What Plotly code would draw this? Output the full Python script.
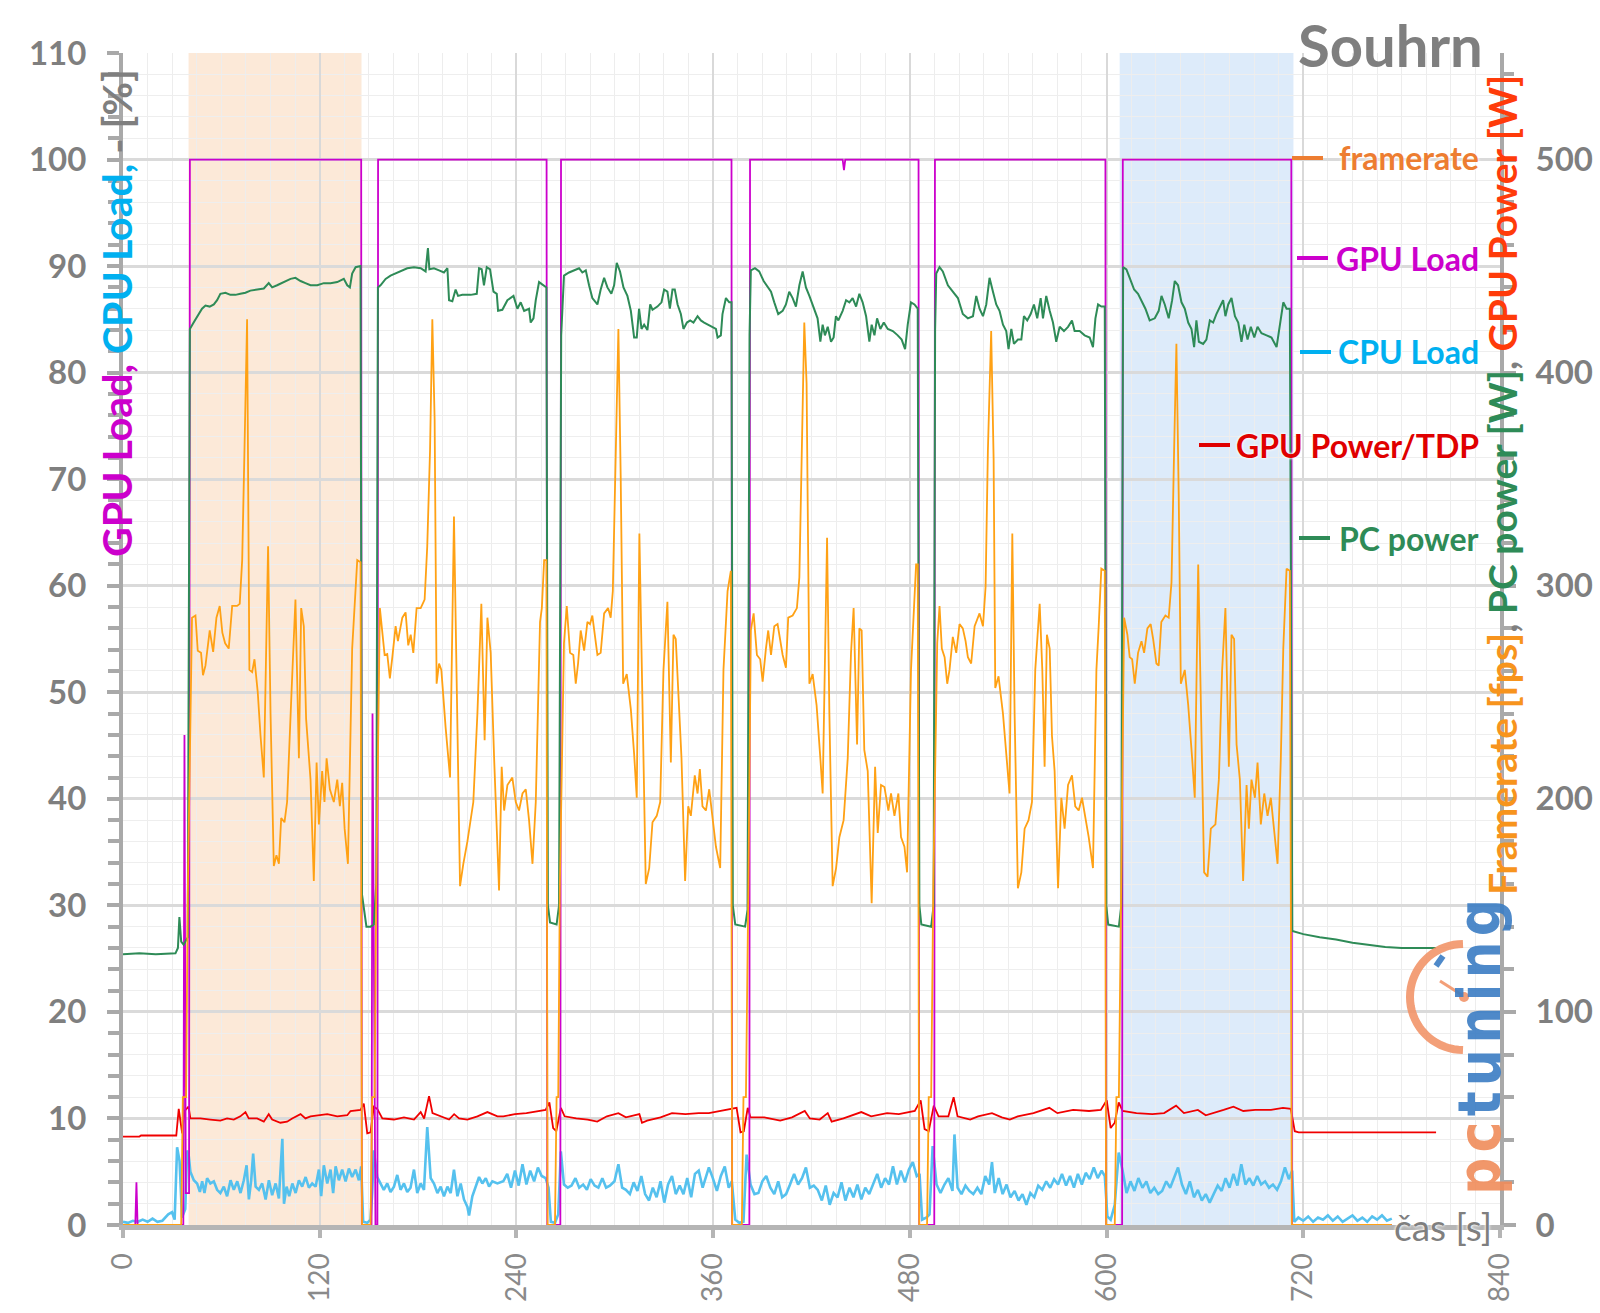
import math
import plotly.graph_objects as go

# ---------------------------------------------------------------- data
time_ticks = [0, 120, 240, 360, 480, 600, 720, 840]
left_ticks = [0, 10, 20, 30, 40, 50, 60, 70, 80, 90, 100, 110]
right_ticks = [0, 100, 200, 300, 400, 500]

# highlighted benchmark passes (start s, end s, colour)
highlight_periods = [(40.0, 145.5, "#FCE9D8"), (608.0, 714.0, "#DDEBFA")]

# GPU Load [%]  (time s, value)
gpu_load = [(0, 0), (7.5, 0), (8.2, 4), (8.9, 0), (36.8, 0), (37.5, 46), (38.3, 3), (40.3, 3), (40.8, 100),
            (145.3, 100), (145.7, 0), (151.6, 0), (152.2, 48), (153.0, 23), (154.0, 0), (155.2, 0), (155.6, 100),
            (258.4, 100), (258.8, 0), (266.8, 0), (267.2, 100), (371.2, 100), (371.6, 0), (382.1, 0), (382.5, 100),
            (439.0, 100), (439.8, 99), (440.6, 100), (485.3, 100), (485.7, 0), (494.9, 0), (495.3, 100),
            (599.3, 100), (599.7, 0), (609.5, 0), (609.9, 100), (712.7, 100), (713.1, 0), (774, 0)]

# Framerate [fps]
framerate_idle = [(0, 0), (35.5, 0), (36.5, 60), (38.5, 60), (39.5, 155)]
framerate_run1 = [(42.1, 285), (44.2, 286), (45.6, 269.5), (47.6, 268.5), (48.8, 258), (50.3, 262.5), (52.9, 279),
                  (55.0, 269), (57.0, 285), (59.0, 290.5), (60.6, 278), (62.3, 273), (64.5, 270.5), (66.6, 290.5),
                  (69.6, 290.5), (71.2, 291.5), (72.7, 312), (74.1, 363.5), (75.7, 425), (77.1, 260.5),
                  (78.8, 259.5), (80.2, 265.5), (82.2, 250), (83.9, 229.5), (85.9, 210), (88.5, 318.5), (90.0, 240),
                  (92.0, 168.5), (93.6, 173.5), (95.1, 169.5), (96.5, 191), (98.5, 189), (100.1, 198.5),
                  (102.8, 250), (105.2, 293.5), (107.3, 219), (108.7, 289.5), (110.3, 281), (111.7, 237.5),
                  (114.4, 209), (116.4, 161.5), (118.1, 217), (119.5, 188), (121.5, 213), (122.9, 198.5),
                  (124.2, 219), (126.2, 204.5), (128.6, 198.5), (130.7, 209), (132.3, 196.5), (133.7, 207.5),
                  (135.2, 186), (137.2, 169.5), (139.8, 270.5), (142.9, 312), (144.9, 311),
                  (145.8, 0), (151.0, 0), (152.0, 60), (153.5, 60), (154.5, 160)]
framerate_run2 = [(156.7, 289.5), (158.2, 277), (159.6, 267.5), (161.2, 268), (162.8, 256.5), (164.3, 266.5),
                  (166.3, 281), (167.7, 274), (170.4, 285), (172.4, 287.5), (174.0, 272), (175.5, 277),
                  (177.1, 268.5), (179.1, 289.5), (181.6, 289.5), (184.0, 293.5), (185.6, 318.5), (187.3, 363.5),
                  (188.7, 425), (190.1, 378), (191.3, 254), (192.8, 263.5), (194.2, 260.5), (196.8, 233.5),
                  (199.5, 210), (201.9, 332.5), (204.0, 240), (205.6, 159), (207.6, 169.5), (210.1, 180),
                  (213.7, 198.5), (216.2, 240), (218.6, 291.5), (220.6, 227.5), (222.3, 285), (224.3, 268.5),
                  (226.4, 219), (229.4, 157), (231.0, 215), (232.5, 194.5), (234.5, 206.5), (237.5, 210),
                  (239.6, 198.5), (241.6, 194.5), (243.7, 202.5), (245.7, 204.5), (247.7, 190), (249.8, 169.5),
                  (251.8, 198.5), (254.4, 283), (255.5, 289.5), (256.9, 312), (258.3, 312),
                  (259.0, 0), (263.5, 0), (264.5, 60), (265.5, 60), (266.5, 160)]
framerate_run3 = [(269.0, 273), (270.7, 290.5), (272.7, 268.5), (274.7, 267.5), (276.2, 254), (277.6, 263.5),
                  (279.2, 279), (281.3, 269.5), (283.3, 283), (284.9, 282), (286.3, 286), (287.8, 277),
                  (289.4, 267.5), (291.4, 268.5), (293.5, 287), (295.9, 289.5), (297.5, 285), (298.8, 297.5),
                  (300.6, 363.5), (302.2, 420.5), (303.6, 351.5), (305.1, 254), (307.3, 258.5), (309.8, 242),
                  (311.8, 221), (313.4, 200.5), (315.0, 324.5), (316.9, 240), (318.9, 160), (321.0, 167.5),
                  (323.0, 189), (325.6, 192), (327.7, 198.5), (329.7, 260.5), (332.1, 292.5), (334.2, 217),
                  (335.8, 277), (337.2, 275), (339.3, 237.5), (340.7, 219), (342.9, 161.5), (344.8, 196.5),
                  (346.4, 192), (348.8, 211), (350.5, 202.5), (351.9, 214), (353.5, 196.5), (355.6, 194.5),
                  (357.6, 204.5), (359.6, 192), (361.7, 177.5), (364.3, 167.5), (366.3, 260.5), (368.8, 297.5),
                  (370.8, 307),
                  (371.6, 0), (377.5, 0), (378.5, 60), (380.0, 60), (381.5, 160)]
framerate_run4 = [(383.0, 279), (384.7, 287), (386.7, 267.5), (388.7, 265.5), (390.2, 255), (392.2, 270.5),
                  (393.6, 279), (395.3, 267.5), (397.3, 281), (399.3, 282), (400.9, 275), (402.4, 267.5),
                  (404.4, 261.5), (405.8, 285), (408.5, 286), (411.1, 289.5), (412.6, 304), (414.0, 363.5),
                  (415.6, 423.5), (417.0, 395), (418.7, 254), (420.7, 258.5), (423.1, 244), (425.4, 219),
                  (426.8, 202.5), (429.5, 322.5), (430.9, 240), (432.9, 159), (435.0, 167.5), (437.0, 182),
                  (439.6, 190), (442.1, 219), (444.1, 268.5), (445.7, 289.5), (447.8, 225.5), (449.2, 280),
                  (450.6, 279), (452.2, 223), (454.3, 213), (456.7, 151), (458.8, 215), (460.4, 184),
                  (462.4, 206.5), (464.5, 205.5), (466.9, 194.5), (468.5, 202.5), (470.6, 192), (473.0, 202.5),
                  (474.6, 182), (476.7, 177.5), (478.3, 165.5), (480.7, 260.5), (482.4, 287), (483.8, 310),
                  (484.8, 310),
                  (485.7, 0), (490.5, 0), (491.5, 60), (493.0, 60), (494.3, 160)]
framerate_run5 = [(496.7, 273), (498.1, 290.5), (499.5, 270.5), (501.2, 266.5), (502.8, 254), (504.2, 260.5),
                  (506.2, 276), (508.3, 268.5), (510.3, 282), (512.3, 280), (514.0, 274), (515.4, 266.5),
                  (517.4, 263.5), (519.5, 281), (522.5, 287), (524.6, 281), (526.2, 299.5), (527.6, 363.5),
                  (529.6, 419.5), (531.1, 359.5), (532.1, 252), (534.1, 257.5), (536.8, 240), (538.8, 219),
                  (540.8, 202.5), (542.5, 324.5), (543.9, 240), (545.9, 158), (548.0, 165.5), (550.0, 186),
                  (552.4, 190), (554.5, 198.5), (556.5, 260.5), (559.2, 291.5), (560.8, 260.5), (562.2, 215),
                  (563.6, 277), (565.3, 270.5), (566.7, 229.5), (568.3, 213), (570.4, 158), (572.4, 200.5),
                  (574.4, 186), (576.5, 206.5), (578.9, 211), (580.9, 196.5), (583.0, 194.5), (585.0, 200.5),
                  (587.0, 192), (589.1, 182), (591.7, 167.5), (593.8, 260.5), (595.2, 281), (596.8, 308),
                  (598.9, 307),
                  (599.7, 0), (605.0, 0), (606.0, 60), (607.5, 60), (608.8, 160)]
framerate_run6 = [(610.7, 285), (612.7, 277), (614.1, 266.5), (615.6, 265.5), (617.2, 254), (619.2, 268.5),
                  (621.3, 274), (622.9, 268.5), (624.9, 280), (626.9, 282), (628.4, 275), (630.4, 263.5),
                  (631.8, 262.5), (633.4, 283), (635.9, 286), (637.9, 285), (639.6, 301.5), (641.2, 363.5),
                  (642.6, 413.5), (644.0, 343), (645.3, 254), (647.7, 260.5), (649.8, 244), (652.2, 219),
                  (653.8, 200.5), (655.9, 310), (657.5, 240), (659.5, 165.5), (661.6, 163.5), (663.6, 186),
                  (666.4, 188), (668.5, 209), (670.5, 260.5), (672.5, 289.5), (674.6, 215), (676.2, 277),
                  (677.8, 275), (679.3, 225.5), (681.3, 209), (683.3, 161.5), (685.4, 206.5), (686.8, 186),
                  (688.4, 209), (690.5, 200.5), (692.1, 217), (694.1, 188), (696.2, 202.5), (698.2, 192),
                  (700.2, 200.5), (702.3, 186), (704.3, 169.5), (706.3, 219), (707.8, 270.5), (709.8, 308),
                  (711.8, 307),
                  (713.0, 0), (774.0, 0)]

# PC power [W]
pc_power_idle = [(0, 127), (10, 127.5), (20, 127), (32, 127.5), (33.5, 130), (34.4, 144.5), (35.5, 133),
                 (37.0, 131.5), (39.5, 135)]
pc_power_run1 = [(40.8, 420.5), (43.1, 423.5), (46.2, 427.5), (48.2, 430), (50.3, 431.5), (52.9, 431),
                 (55.4, 432), (57.4, 434), (59.4, 437), (62.5, 437.5), (65.5, 436.5), (68.6, 436.5), (71.6, 437),
                 (74.7, 437.5), (77.7, 438.5), (81.8, 439), (85.9, 439.5), (88.9, 442), (91.0, 440), (94.0, 441),
                 (98.1, 442.5), (102.2, 444), (105.2, 444.5), (108.3, 443), (111.3, 442), (114.4, 441),
                 (118.5, 441), (122.5, 442), (126.6, 442), (130.7, 442.5), (134.7, 444), (136.8, 441),
                 (138.4, 440), (139.8, 446.5), (141.9, 449.5), (144.9, 450),
                 (145.8, 155), (147.0, 147.5), (148.5, 140), (151.0, 140), (153.0, 141), (154.5, 160)]
pc_power_run2 = [(155.5, 440), (157.1, 441), (160.2, 444), (163.2, 445.5), (166.3, 446.5), (169.4, 447.5),
                 (173.4, 449), (177.5, 449.5), (181.6, 449), (184.6, 447.5), (186.0, 458.5), (186.9, 448.5),
                 (189.7, 449), (192.8, 448), (195.8, 447), (197.9, 449), (198.9, 434), (200.9, 433.5),
                 (202.9, 439), (204.4, 436), (207.0, 436.5), (212.1, 436.5), (215.8, 437), (217.2, 449),
                 (218.8, 448.5), (220.2, 441), (221.9, 449.5), (223.9, 448.5), (226.0, 438), (228.0, 437),
                 (228.8, 429), (231.4, 429.5), (234.5, 434), (238.2, 436), (240.6, 430), (242.6, 433),
                 (244.7, 429), (247.7, 430), (248.7, 423.5), (250.4, 425.5), (251.8, 434), (253.8, 442.5),
                 (256.9, 440.5), (258.3, 440),
                 (259.2, 150), (260.5, 142), (264.5, 141), (266.0, 150)]
pc_power_run3 = [(267.3, 417.5), (269.0, 445.5), (272.1, 447), (275.1, 448), (278.2, 449), (280.2, 447),
                 (282.3, 448), (284.3, 441), (286.3, 435), (289.4, 432), (291.4, 439), (293.5, 444.5),
                 (295.5, 440), (297.9, 437), (299.6, 441), (301.2, 451.5), (303.2, 447.5), (305.3, 440),
                 (307.7, 436), (309.8, 429), (311.8, 416.5), (313.4, 416.5), (314.8, 430), (316.3, 420.5),
                 (317.9, 422.5), (319.9, 420), (321.6, 432), (323.0, 429.5), (326.0, 431), (328.5, 433),
                 (330.1, 439), (332.1, 438), (333.6, 430), (335.2, 439), (336.6, 439), (338.3, 432),
                 (340.3, 427.5), (341.9, 420.5), (344.0, 423.5), (346.0, 424.5), (348.0, 423.5), (350.5, 426.5),
                 (352.5, 424.5), (354.5, 423.5), (357.0, 422.5), (359.6, 421.5), (361.7, 420.5), (362.7, 416.5),
                 (364.7, 417.5), (365.7, 427.5), (367.8, 435), (369.8, 433), (371.2, 433),
                 (372.0, 150), (373.5, 141), (379.5, 140), (381.0, 148)]
pc_power_run4 = [(382.2, 417.5), (383.0, 448), (385.5, 449), (388.1, 447.5), (390.8, 443), (393.2, 440),
                 (395.3, 438), (397.3, 433), (399.7, 427.5), (402.4, 429), (404.4, 432), (406.4, 438),
                 (408.5, 435), (410.5, 431), (412.6, 441), (414.6, 447.5), (416.6, 440), (418.7, 436),
                 (421.7, 430), (423.7, 425.5), (425.4, 414.5), (426.8, 422.5), (428.2, 417.5), (429.9, 421.5),
                 (431.9, 414.5), (433.5, 416.5), (434.9, 426.5), (436.4, 424.5), (439.0, 429), (441.1, 434),
                 (443.1, 433), (445.1, 435), (447.2, 431), (449.2, 437), (451.2, 433), (453.3, 426.5),
                 (455.3, 414.5), (456.7, 422.5), (458.4, 417.5), (460.0, 425.5), (462.0, 420.5), (464.1, 423.5),
                 (466.5, 420.5), (469.6, 419.5), (472.6, 417.5), (475.0, 415.5), (477.1, 411), (478.7, 422.5),
                 (480.7, 433), (482.8, 432), (484.8, 430),
                 (485.8, 150), (487.0, 141), (493.0, 140), (494.5, 150)]
pc_power_run5 = [(495.4, 420), (496.1, 446.5), (498.1, 449.5), (500.1, 447.5), (503.2, 441), (506.2, 438),
                 (509.3, 435), (512.3, 427.5), (515.4, 425.5), (518.5, 426.5), (520.5, 436), (522.5, 430),
                 (524.6, 426.5), (526.6, 432), (528.6, 444.5), (530.7, 438), (532.7, 432), (534.7, 429),
                 (536.8, 422.5), (538.8, 419.5), (540.2, 411), (541.9, 420.5), (543.5, 413.5), (545.9, 415.5),
                 (548.0, 415.5), (549.6, 426.5), (551.6, 424.5), (553.7, 427.5), (555.7, 432), (557.7, 425.5),
                 (559.8, 435), (561.2, 425.5), (563.2, 436), (565.3, 429), (567.3, 423.5), (569.3, 414.5),
                 (571.4, 421.5), (574.0, 419.5), (576.5, 421.5), (578.9, 424.5), (580.5, 419.5), (583.6, 419.5),
                 (586.6, 417.5), (589.7, 416.5), (591.7, 412), (593.2, 425.5), (594.8, 432), (596.8, 431),
                 (598.9, 431),
                 (599.8, 150), (601.0, 141), (607.5, 140), (609.0, 150)]
pc_power_run6 = [(610.1, 449.5), (612.1, 448.5), (614.1, 444.5), (616.8, 439), (619.2, 437), (621.3, 434),
                 (623.7, 430), (626.3, 424.5), (629.4, 425.5), (631.8, 429), (633.5, 436), (635.5, 432),
                 (637.9, 425.5), (640.0, 434), (641.6, 443), (643.6, 441), (645.7, 433), (647.7, 430),
                 (649.8, 423.5), (651.8, 420.5), (653.4, 412), (654.8, 424.5), (656.3, 414.5), (658.9, 413.5),
                 (660.9, 415.5), (663.0, 424.5), (665.0, 423.5), (667.0, 427.5), (669.1, 431), (671.1, 434),
                 (672.5, 426.5), (674.2, 432), (676.2, 435), (678.3, 426.5), (680.3, 423.5), (682.3, 414.5),
                 (684.0, 422.5), (686.0, 415.5), (688.0, 421.5), (690.1, 416.5), (692.1, 421.5), (694.5, 418.5),
                 (697.6, 417.5), (700.6, 416.5), (703.7, 412), (705.7, 422.5), (707.8, 433), (709.8, 430),
                 (711.8, 430)]
pc_power_after = [(713.3, 138), (720, 136.5), (730, 135), (740, 134), (750, 132.5), (760, 131.5), (770, 130.5),
                  (780, 130), (790, 130), (801, 130)]

# GPU Power/TDP [%]
gpu_power_tdp = [(0, 8.3), (10, 8.3), (11, 8.4), (32.5, 8.4), (34.0, 10.9), (36.1, 8.6), (37.6, 10.7), (40.0, 11.1),
                 (41.1, 10.0), (47.2, 10.0), (53.3, 9.9), (59.4, 9.8), (63.5, 10.0), (67.6, 9.9), (71.6, 10.2),
                 (74.7, 10.6), (76.7, 10.0), (81.8, 10.0), (85.9, 9.7), (88.9, 10.4), (91.0, 9.9), (96.0, 9.6),
                 (100.1, 9.7), (103.2, 10.0), (108.3, 10.4), (111.3, 10.0), (114.4, 10.2), (118.5, 10.3),
                 (124.6, 10.4), (130.7, 10.2), (136.8, 10.3), (138.8, 10.7), (144.9, 10.8), (146.9, 11.4),
                 (149.0, 8.6), (151.0, 8.7), (153.0, 11.1), (155.1, 10.9), (158.2, 10.0), (165.3, 9.9),
                 (171.4, 10.1), (177.5, 9.9), (181.6, 10.6), (183.7, 10.0), (186.7, 12.1), (188.8, 10.5),
                 (193.8, 10.2), (198.9, 9.9), (202.0, 10.4), (205.0, 10.0), (210.1, 9.9), (216.2, 10.2),
                 (222.3, 10.6), (228.4, 10.2), (232.0, 10.2), (239.1, 10.4), (246.1, 10.5), (253.1, 10.7),
                 (257.8, 10.8), (260.1, 11.5), (262.4, 9.1), (264.3, 8.8), (267.1, 11.0), (269.4, 10.2),
                 (276.5, 10.0), (283.5, 9.9), (289.3, 9.7), (295.2, 10.2), (302.2, 10.5), (306.8, 10.1),
                 (315.0, 10.4), (316.6, 9.6), (319.7, 9.8), (327.9, 10.1), (334.9, 10.5), (343.1, 10.4),
                 (351.2, 10.5), (357.4, 10.5), (364.7, 10.7), (370.7, 10.9), (374.3, 11.0), (376.7, 8.7),
                 (378.7, 8.8), (381.1, 11.0), (382.8, 10.1), (391.2, 10.1), (400.9, 9.8), (408.1, 10.1),
                 (415.9, 10.7), (419.0, 10.0), (425.0, 9.9), (429.9, 10.5), (432.3, 9.7), (439.5, 10.0),
                 (450.4, 10.6), (456.4, 10.2), (466.1, 10.5), (473.3, 10.4), (483.0, 10.7), (486.6, 11.7),
                 (489.0, 9.0), (491.5, 8.8), (494.6, 11.2), (497.5, 10.2), (503.5, 10.2), (506.7, 12.0),
                 (509.1, 10.2), (516.8, 9.9), (521.6, 10.2), (530.1, 10.5), (536.1, 10.1), (541.0, 9.9),
                 (545.8, 10.2), (555.4, 10.5), (565.1, 11.0), (570.0, 10.5), (579.6, 10.8), (589.3, 10.7),
                 (596.5, 10.8), (600.1, 11.7), (602.5, 9.1), (605.0, 9.6), (607.4, 11.5), (609.8, 10.7),
                 (618.2, 10.5), (627.9, 10.4), (635.1, 10.5), (642.4, 11.2), (647.2, 10.5), (655.7, 10.8),
                 (660.5, 10.3), (671.4, 10.8), (677.4, 11.1), (683.4, 10.7), (690.7, 10.8), (700.3, 10.8),
                 (707.6, 11.0), (712.4, 10.9), (714.8, 8.8), (717.2, 8.7), (801, 8.7)]

# CPU Load [%]
cpu_load_idle = [(0, 0.3), (3, 0.2), (6, 0.4), (9, 0.3), (12, 0.5), (15, 0.3), (18, 0.6), (21, 0.3), (24, 0.4),
                 (27.6, 1.0), (29.9, 1.2), (31.5, 0.5), (33.0, 7.3), (34.5, 6.0), (36.0, 0.7), (38.0, 1.5),
                 (39.1, 7.0), (40.1, 6.5)]
cpu_load_run1 = [(41.1, 5.0), (43.2, 4.2), (45.2, 3.9), (46.9, 3.1), (48.3, 4.1), (49.7, 3.0), (51.3, 4.4),
                 (53.3, 3.9), (55.4, 4.1), (57.4, 3.3), (59.4, 3.0), (61.5, 3.6), (63.5, 2.7), (65.6, 4.2),
                 (67.6, 3.3), (69.7, 4.1), (71.7, 3.0), (73.7, 4.2), (75.4, 5.6), (76.8, 2.4), (78.2, 4.2),
                 (79.4, 6.7), (80.9, 3.6), (82.9, 3.3), (84.9, 3.9), (87.0, 2.4), (89.0, 4.2), (91.0, 2.8),
                 (93.1, 3.9), (95.1, 2.5), (97.2, 8.1), (98.2, 2.0), (99.8, 3.6), (101.4, 2.7), (103.3, 3.9),
                 (105.3, 3.0), (107.3, 4.2), (109.3, 3.6), (111.4, 4.5), (113.4, 3.5), (115.4, 3.9), (117.5, 3.6),
                 (119.5, 5.2), (120.9, 2.7), (122.5, 5.6), (124.6, 3.9), (126.6, 5.2), (128.2, 3.0), (129.7, 5.5),
                 (131.7, 4.2), (133.7, 5.2), (135.8, 4.1), (137.8, 5.3), (139.8, 4.5), (141.9, 5.2), (143.9, 4.2),
                 (145.3, 5.5),
                 (146.5, 0.3), (149.0, 0.2), (151.0, 0.5), (152.0, 3.0), (153.0, 7.0)]
cpu_load_run2 = [(155.1, 4.5), (157.1, 3.9), (159.1, 3.3), (161.2, 3.9), (163.2, 3.1), (165.3, 3.6), (167.3, 4.7),
                 (169.3, 3.3), (171.4, 3.9), (173.4, 3.1), (175.4, 3.5), (177.5, 5.2), (179.5, 3.0), (181.6, 3.9),
                 (183.6, 3.3), (185.6, 9.2), (187.7, 4.4), (189.7, 3.9), (191.8, 3.0), (193.8, 3.6), (195.8, 2.7),
                 (197.9, 3.6), (199.9, 3.0), (201.9, 5.2), (204.0, 2.7), (206.0, 3.9), (208.0, 2.4), (210.1, 1.7),
                 (211.1, 0.9), (213.1, 2.7), (215.2, 3.6), (217.2, 4.5), (219.2, 3.9), (221.3, 4.4), (223.3, 3.6),
                 (225.3, 4.1), (228.4, 3.9), (232.0, 4.1), (234.4, 4.8), (236.7, 3.5), (239.1, 5.1), (241.4, 3.7),
                 (243.7, 5.7), (246.1, 3.8), (248.4, 5.1), (250.8, 4.1), (253.1, 5.4), (255.4, 4.6), (257.8, 4.4),
                 (259.6, 3.5),
                 (261.0, 0.3), (263.5, 0.2), (265.5, 1.0), (267.1, 6.9)]
cpu_load_run3 = [(269.0, 3.8), (271.3, 3.5), (273.6, 3.7), (276.0, 4.4), (278.3, 3.5), (280.7, 3.8), (283.0, 3.3),
                 (285.3, 4.3), (287.7, 3.7), (290.0, 3.5), (292.4, 4.4), (294.7, 3.5), (297.0, 3.7), (299.8, 4.1),
                 (302.2, 5.7), (304.5, 3.5), (306.8, 3.3), (309.2, 2.9), (311.5, 4.0), (313.8, 3.2), (316.2, 4.6),
                 (318.5, 2.9), (320.9, 2.3), (323.2, 3.5), (325.5, 2.6), (327.9, 4.1), (330.2, 2.1), (332.5, 3.8),
                 (334.9, 4.6), (337.2, 2.9), (339.6, 3.7), (341.9, 2.9), (344.2, 4.4), (346.6, 2.6), (348.9, 4.8),
                 (351.2, 5.1), (353.6, 3.5), (355.9, 4.6), (357.4, 5.4), (359.8, 4.4), (362.3, 3.2), (364.7, 4.6),
                 (367.1, 5.5), (369.5, 3.5), (371.4, 4.1),
                 (373.5, 0.5), (376.0, 0.2), (378.5, 0.3), (380.4, 6.6)]
cpu_load_run4 = [(382.8, 3.8), (385.2, 2.9), (387.6, 3.0), (390.0, 4.1), (392.4, 4.6), (394.9, 3.5), (397.3, 2.9),
                 (399.7, 4.1), (402.1, 2.6), (404.5, 2.9), (406.9, 3.8), (409.4, 4.8), (411.8, 3.8), (414.2, 4.4),
                 (416.6, 5.4), (419.0, 3.5), (421.4, 3.7), (423.8, 3.3), (426.3, 2.3), (428.7, 3.7), (431.1, 1.9),
                 (433.5, 3.0), (435.9, 2.6), (438.3, 4.0), (440.7, 2.3), (443.2, 3.5), (445.6, 2.6), (448.0, 3.8),
                 (450.4, 2.4), (452.8, 3.5), (455.2, 2.9), (457.6, 3.8), (460.1, 4.8), (462.5, 3.5), (464.9, 4.4),
                 (467.3, 3.8), (469.7, 5.5), (472.1, 3.8), (474.5, 5.1), (477.0, 4.0), (479.4, 5.2), (481.8, 5.9),
                 (484.2, 4.6), (485.9, 4.8),
                 (487.5, 0.5), (490.2, 0.7), (492.0, 1.0), (493.9, 7.4)]
cpu_load_run5 = [(496.3, 3.8), (498.7, 3.0), (501.1, 3.8), (503.5, 4.4), (506.0, 3.2), (507.2, 8.5), (509.1, 3.5),
                 (511.5, 2.9), (513.9, 3.7), (516.3, 3.2), (518.7, 2.9), (521.2, 3.5), (523.6, 2.9), (526.0, 4.6),
                 (528.4, 3.8), (530.1, 5.9), (531.8, 3.0), (534.2, 4.4), (536.6, 2.9), (539.0, 3.8), (541.4, 2.6),
                 (543.9, 3.2), (546.3, 2.3), (548.7, 2.9), (551.1, 1.9), (553.5, 3.0), (555.9, 2.6), (558.3, 3.7),
                 (560.8, 3.3), (563.2, 4.1), (565.6, 3.5), (568.0, 4.3), (570.4, 3.8), (572.8, 4.8), (575.3, 3.7),
                 (577.7, 4.6), (580.1, 3.5), (582.5, 4.8), (584.9, 3.8), (587.3, 4.9), (589.7, 4.3), (592.2, 5.4),
                 (594.6, 4.4), (597.0, 5.1), (598.9, 4.6),
                 (600.5, 0.8), (602.5, 0.5), (605.0, 1.9), (607.4, 6.8)]
cpu_load_run6 = [(609.8, 5.1), (612.2, 3.0), (614.6, 4.1), (617.0, 3.2), (619.4, 4.4), (621.9, 3.5), (624.3, 4.1),
                 (626.7, 3.0), (629.1, 3.5), (631.5, 2.9), (633.9, 3.2), (636.4, 4.1), (638.8, 3.5), (641.2, 4.4),
                 (643.6, 5.4), (646.0, 3.8), (648.4, 2.9), (650.8, 4.1), (653.3, 2.6), (655.7, 3.3), (658.1, 2.3),
                 (660.5, 2.9), (662.9, 2.1), (665.3, 2.9), (667.8, 3.7), (670.2, 3.2), (672.6, 4.4), (675.0, 3.5),
                 (677.4, 4.8), (679.8, 3.7), (682.2, 5.7), (684.7, 3.8), (687.1, 4.4), (689.5, 3.7), (691.9, 4.6),
                 (694.3, 3.8), (696.7, 4.1), (699.1, 3.5), (701.5, 3.8), (704.0, 3.3), (706.4, 4.1), (708.8, 5.4),
                 (711.2, 4.3), (713.2, 5.1)]
cpu_load_after = [(714.5, 0.3), (717, 0.7), (720, 0.4), (723, 0.8), (726, 0.3), (729, 0.7), (732, 0.5), (735, 0.9),
                  (738, 0.4), (741, 0.8), (744, 0.3), (747, 0.6), (750, 0.9), (753, 0.4), (756, 0.7), (759, 0.3),
                  (762, 0.8), (765, 0.5), (768, 0.9), (771, 0.4), (774, 0.6)]

# ---------------------------------------------------------------- helpers
def split(*parts):
    pts = [p for part in parts for p in part]
    return [p[0] for p in pts], [p[1] for p in pts]


framerate_x, framerate_y = split(framerate_idle, framerate_run1, framerate_run2, framerate_run3,
                                 framerate_run4, framerate_run5, framerate_run6)
pc_x, pc_y = split(pc_power_idle, pc_power_run1, pc_power_run2, pc_power_run3, pc_power_run4,
                   pc_power_run5, pc_power_run6, pc_power_after)
cpu_x, cpu_y = split(cpu_load_idle, cpu_load_run1, cpu_load_run2, cpu_load_run3, cpu_load_run4,
                     cpu_load_run5, cpu_load_run6, cpu_load_after)
gpu_x, gpu_y = split(gpu_load)
tdp_x, tdp_y = split(gpu_power_tdp)

# colours
C_GPU = "#CC00CC"
C_CPU_LINE = "#55C1EE"
C_CPU_TEXT = "#00B0F0"
C_TDP = "#F00000"
C_PC = "#2E8B57"
C_FPS_LINE = "#FFA114"
C_FPS_TEXT = "#ED7D31"
GREY = "#7F7F7F"
AXIS = "#A9A9A9"
FONT = "Lato, 'Open Sans', sans-serif"

# plot area in pixels (layout, not data)
PL, PR, PT, PB = 123, 1500, 53, 1225


def px(x):
    return (x - PL) / (PR - PL)


def py(y):
    return (PB - y) / (PB - PT)


fig = go.Figure()
fig.add_trace(go.Scatter(x=cpu_x, y=cpu_y, mode="lines", name="CPU Load",
                         line=dict(color=C_CPU_LINE, width=2.6)))
fig.add_trace(go.Scatter(x=tdp_x, y=tdp_y, mode="lines", name="GPU Power/TDP",
                         line=dict(color=C_TDP, width=1.8)))
fig.add_trace(go.Scatter(x=pc_x, y=pc_y, mode="lines", name="PC power", yaxis="y2",
                         line=dict(color=C_PC, width=2)))
fig.add_trace(go.Scatter(x=framerate_x, y=framerate_y, mode="lines", name="framerate", yaxis="y2",
                         line=dict(color=C_FPS_LINE, width=1.8)))
fig.add_trace(go.Scatter(x=gpu_x, y=gpu_y, mode="lines", name="GPU Load",
                         line=dict(color=C_GPU, width=1.8)))

shapes = []
for x0, x1, col in highlight_periods:
    shapes.append(dict(type="rect", xref="x", yref="paper", x0=x0, x1=x1, y0=0, y1=1,
                       fillcolor=col, line=dict(width=0), layer="below"))

# pctuning gauge (decoration)
cx, cy, r = 1463, 997, 53
arc = []
for i in range(0, 37):
    a = math.radians(90 + i * 5)
    arc.append((px(cx + r * math.cos(a)), py(cy - r * math.sin(a))))
path = "M " + " L ".join(f"{a:.5f},{b:.5f}" for a, b in arc)
shapes.append(dict(type="path", xref="paper", yref="paper", path=path,
                   line=dict(color="#F2956A", width=8), opacity=0.9, layer="above"))
shapes.append(dict(type="line", xref="paper", yref="paper", x0=px(1440), y0=py(981), x1=px(1462), y1=py(995),
                   line=dict(color="#F2956A", width=3), opacity=0.9))
shapes.append(dict(type="circle", xref="paper", yref="paper", x0=px(1459), x1=px(1469), y0=py(1002), y1=py(992),
                   fillcolor="#F2956A", line=dict(width=0), opacity=0.9))
shapes.append(dict(type="line", xref="paper", yref="paper", x0=px(1436), y0=py(966), x1=px(1443), y1=py(956),
                   line=dict(color="#3B7DC4", width=6), opacity=0.9))

glow = "0px 0px 3px white, 0px 0px 3px white"
hs = "\u200a"
logo_pc = hs.join("pc")
logo_tuning = hs.join("tuning")
annotations = [
    dict(text="<b>Souhrn</b>", x=px(1390), y=py(44), xref="paper", yref="paper", showarrow=False,
         xanchor="center", yanchor="middle", font=dict(family=FONT, size=58, color=GREY)),
    dict(text="<span style='color:%s'>GPU Load,</span> <span style='color:%s'>CPU Load,</span> - [%%]"
              % (C_GPU, C_CPU_TEXT),
         x=px(117), y=py(313), xref="paper", yref="paper", showarrow=False, textangle=-90,
         xanchor="center", yanchor="middle", font=dict(family=FONT, size=41, color=GREY, weight="bold")),
    dict(text="<span style='color:#F7941D'>Framerate [fps]</span>, <span style='color:%s'>PC power [W]</span>, "
              "<span style='color:#FF3B0A'>GPU Power [W]</span>" % C_PC,
         x=px(1502), y=py(485), xref="paper", yref="paper", showarrow=False, textangle=-90,
         xanchor="center", yanchor="middle", font=dict(family=FONT, size=39, color=GREY, weight="bold")),
    dict(text="čas [s]", x=px(1443), y=py(1226), xref="paper", yref="paper", showarrow=False,
         xanchor="center", yanchor="middle", font=dict(family=FONT, size=37, color=GREY,
                                                       shadow=glow)),
    dict(text="<span style='color:#F08C5A'>%s</span>%s<span style='color:#3B7DC4'>%s</span>"
              % (logo_pc, hs, logo_tuning),
         x=px(1480), y=py(1047), xref="paper", yref="paper", showarrow=False, textangle=-90,
         xanchor="center", yanchor="middle", opacity=0.9,
         font=dict(family="'DejaVu Sans Condensed', 'DejaVu Sans', sans-serif", size=58,
                   color="#3B7DC4", weight="bold")),
]
# legend: (label, text colour, dash x0, dash x1, centre y) - layout positions only
legend_items = [("framerate", C_FPS_TEXT, 1292, 1323, 158),
                ("GPU Load", C_GPU, 1297, 1328, 258),
                ("CPU Load", C_CPU_TEXT, 1300, 1331, 352),
                ("GPU Power/TDP", "#E00000", 1199, 1230, 445),
                ("PC power", C_PC, 1299, 1330, 538)]
for label, col, d0, d1, yy in legend_items:
    annotations.append(dict(text=label, x=px(1481), y=py(yy), xref="paper", yref="paper",
                            showarrow=False, xanchor="right", yanchor="middle",
                            font=dict(family=FONT, size=32, color=col, weight="bold", shadow=glow)))
    shapes.append(dict(type="line", xref="paper", yref="paper", x0=px(d0), x1=px(d1), y0=py(yy), y1=py(yy),
                       line=dict(color=col, width=4), layer="above"))

fig.update_layout(
    width=1600, height=1313,
    margin=dict(l=PL, r=1600 - PR, t=PT, b=1313 - PB, autoexpand=False),
    paper_bgcolor="white", plot_bgcolor="white",
    showlegend=False,
    font=dict(family=FONT),
    shapes=shapes,
    annotations=annotations,
    xaxis=dict(range=[0, 840], tickvals=time_ticks, tickangle=-90,
               tickfont=dict(family=FONT, size=28, color="#8A8A8A"),
               showgrid=True, gridcolor="#D9D9D9", gridwidth=2,
               minor=dict(dtick=15, tick0=0, showgrid=True, gridcolor="#EDEDED", gridwidth=1),
               showline=True, linecolor="#B5B5B5", linewidth=5,
               ticks="outside", ticklen=8, tickwidth=4, tickcolor="#B5B5B5",
               zeroline=False, automargin=False, ticklabelstandoff=4),
    yaxis=dict(range=[0, 110], tickvals=left_ticks,
               tickfont=dict(family=FONT, size=33, color=GREY, weight="bold"),
               showgrid=True, gridcolor="#DADADA", gridwidth=2.5,
               minor=dict(dtick=2, tick0=0, showgrid=True, gridcolor="#EEEEEE", gridwidth=1.2,
                          ticks="outside", ticklen=11, tickwidth=4, tickcolor=AXIS),
               showline=True, linecolor=AXIS, linewidth=4,
               ticks="outside", ticklen=12, tickwidth=4, tickcolor=AXIS,
               zeroline=False, automargin=False, ticklabelstandoff=14),
    yaxis2=dict(range=[0, 550], tickvals=right_ticks, overlaying="y", side="right",
                tickfont=dict(family=FONT, size=33, color=GREY, weight="bold"),
                showgrid=False,
                minor=dict(dtick=20, tick0=0, ticks="outside", ticklen=10, tickwidth=4, tickcolor=AXIS,
                           showgrid=False),
                showline=True, linecolor=AXIS, linewidth=4,
                ticks="outside", ticklen=12, tickwidth=4, tickcolor=AXIS,
                zeroline=False, automargin=False, ticklabelstandoff=13),
)

fig.write_html("out.html")
